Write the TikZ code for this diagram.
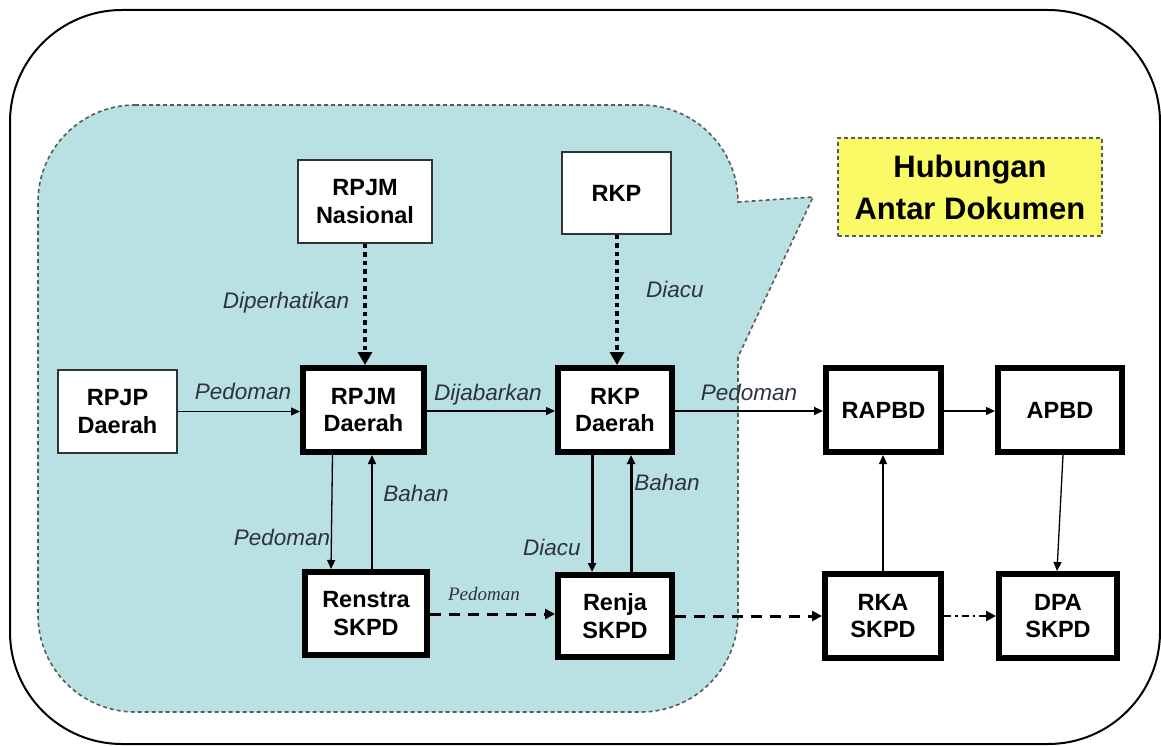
\documentclass[tikz,border=0pt]{standalone}
\usepackage{fontspec}
\setmainfont{Liberation Sans}
\newfontfamily\seriffont{Liberation Serif}
\usetikzlibrary{arrows.meta}
\definecolor{calloutfill}{RGB}{185,224,227}
\definecolor{noteyellow}{RGB}{250,250,102}
\definecolor{labelcol}{RGB}{45,50,65}
\definecolor{dashgray}{RGB}{90,90,90}
\begin{document}
\begin{tikzpicture}[x=1pt,y=-1pt,
  boxtext/.style={align=center,font=\bfseries\fontsize{23.5}{27.5}\selectfont,fill=white,inner sep=0pt},
  thinbox/.style={boxtext,draw=black!80,line width=1.3pt},
  thickbox/.style={boxtext,draw=black,line width=6pt},
  lbl/.style={font=\itshape\fontsize{22.5}{26}\selectfont,text=labelcol,inner sep=0pt},
  tip/.style={-{Triangle[length=9pt,width=8pt]}},
  bigtip/.style={-{Triangle[length=13pt,width=14pt]}},
  thinarrow/.style={tip,line width=1.3pt},
  dotarrow/.style={bigtip,line width=4.5pt,dash pattern=on 4.5pt off 4pt},
  dasharrow/.style={-{Triangle[length=10pt,width=10pt]},line width=3pt,dash pattern=on 11pt off 8pt},
]
\useasboundingbox (0,0) rectangle (1161,746);
% outer frame
\draw[line width=2pt,rounded corners=112pt] (10,10) rectangle (1160,744);
% callout
\draw[fill=calloutfill,draw=dashgray,line width=1.6pt,dash pattern=on 4pt off 3pt]
  (135,105) -- (641,105) .. controls (694.5,105) and (738,148.5) .. (738,202)
  -- (813,197) -- (738,357) -- (738,615)
  .. controls (738,668.5) and (694.5,712) .. (641,712)
  -- (135,712) .. controls (81.5,712) and (38,668.5) .. (38,615)
  -- (38,202) .. controls (38,148.5) and (81.5,105) .. (135,105) -- cycle;
% title note
\node[draw=dashgray,fill=noteyellow,line width=1.6pt,dash pattern=on 4pt off 3pt,
  minimum width=264pt,minimum height=98pt,align=center,
  font=\bfseries\fontsize{31}{42}\selectfont] (title) at (970,187) {Hubungan\\Antar Dokumen};
% nodes
\node[thinbox,minimum width=134pt,minimum height=83pt] (nas) at (365,201.5) {RPJM\\Nasional};
\node[thinbox,minimum width=109pt,minimum height=82pt] (rkp) at (616.5,193) {RKP};
\node[thinbox,minimum width=119pt,minimum height=83pt] (rpjp) at (117.5,411.5) {RPJP\\Daerah};
\node[thickbox,minimum width=121pt,minimum height=84pt] (rpjmd) at (363.5,410) {RPJM\\Daerah};
\node[thickbox,minimum width=114pt,minimum height=84pt] (rkpd) at (615,410) {RKP\\Daerah};
\node[thickbox,minimum width=115pt,minimum height=84pt] (rapbd) at (883.5,410) {RAPBD};
\node[thickbox,minimum width=124pt,minimum height=84pt] (apbd) at (1060,410) {APBD};
\node[thickbox,minimum width=122pt,minimum height=83pt] (renstra) at (366,613.5) {Renstra\\SKPD};
\node[thickbox,minimum width=114pt,minimum height=82pt] (renja) at (615,616) {Renja\\SKPD};
\node[thickbox,minimum width=116pt,minimum height=84pt] (rka) at (883,616) {RKA\\SKPD};
\node[thickbox,minimum width=118pt,minimum height=84pt] (dpa) at (1058,616) {DPA\\SKPD};
% top dotted arrows
\draw[dotarrow] (nas.south) -- (nas.south |- rpjmd.north);
\draw[dotarrow] ([xshift=0.5pt]rkp.south) -- ([xshift=0.5pt]rkp.south |- rkpd.north);
% horizontal row arrows
\draw[thinarrow] (rpjp.east) -- (rpjp.east -| rpjmd.west);
\draw[thinarrow] ([yshift=-1pt]rpjmd.east) -- ([yshift=-1pt]rpjmd.east -| rkpd.west);
\draw[tip,line width=2pt] ([yshift=-1pt]rkpd.east) -- ([yshift=-1pt]rkpd.east -| rapbd.west);
\draw[thinarrow] ([yshift=-1pt]rapbd.east) -- ([yshift=-1pt]rapbd.east -| apbd.west);
% verticals
\draw[thinarrow] ([xshift=-31pt]rpjmd.south) -- ([xshift=-35pt]renstra.north);
\draw[thinarrow] ([xshift=6pt]renstra.north) -- ([xshift=8.5pt]rpjmd.south);
\draw[tip,line width=3pt] ([xshift=-23pt]rkpd.south) -- ([xshift=-23pt]renja.north);
\draw[tip,line width=3pt] ([xshift=16pt]renja.north) -- ([xshift=16pt]rkpd.south);
\draw[thinarrow] (rka.north) -- (rka.north |- rapbd.south);
\draw[thinarrow] ([xshift=3pt]apbd.south) -- ([xshift=-1pt]dpa.north);
% bottom row
\draw[dasharrow] ([yshift=-0.5pt]renstra.east) -- ([yshift=-0.5pt]renstra.east -| renja.west);
\draw[dasharrow] (renja.east) -- (renja.east -| rka.west);
\draw[-{Triangle[length=10pt,width=10pt]},line width=2.5pt,dash pattern=on 7pt off 4pt on 2.5pt off 4pt]
  (rka.east) -- (rka.east -| dpa.west);
% labels
\node[lbl] (l1) at (243,391) {Pedoman};
\node[lbl] (l2) at (488,395) {Dijabarkan};
\node[lbl] (l3) at (749,392) {Pedoman};
\node[lbl] (l4) at (286,303) {Diperhatikan};
\node[lbl] (l5) at (675,289) {Diacu};
\node[lbl] (l6) at (416,493) {Bahan};
\node[lbl] (l7) at (282,537) {Pedoman};
\node[lbl] (l8) at (552,547) {Diacu};
\node[lbl] (l9) at (667,482) {Bahan};
\node[font=\seriffont\itshape\fontsize{19}{22}\selectfont,text=labelcol,inner sep=0pt] (l10) at (484,594) {Pedoman};
\end{tikzpicture}
\end{document}
